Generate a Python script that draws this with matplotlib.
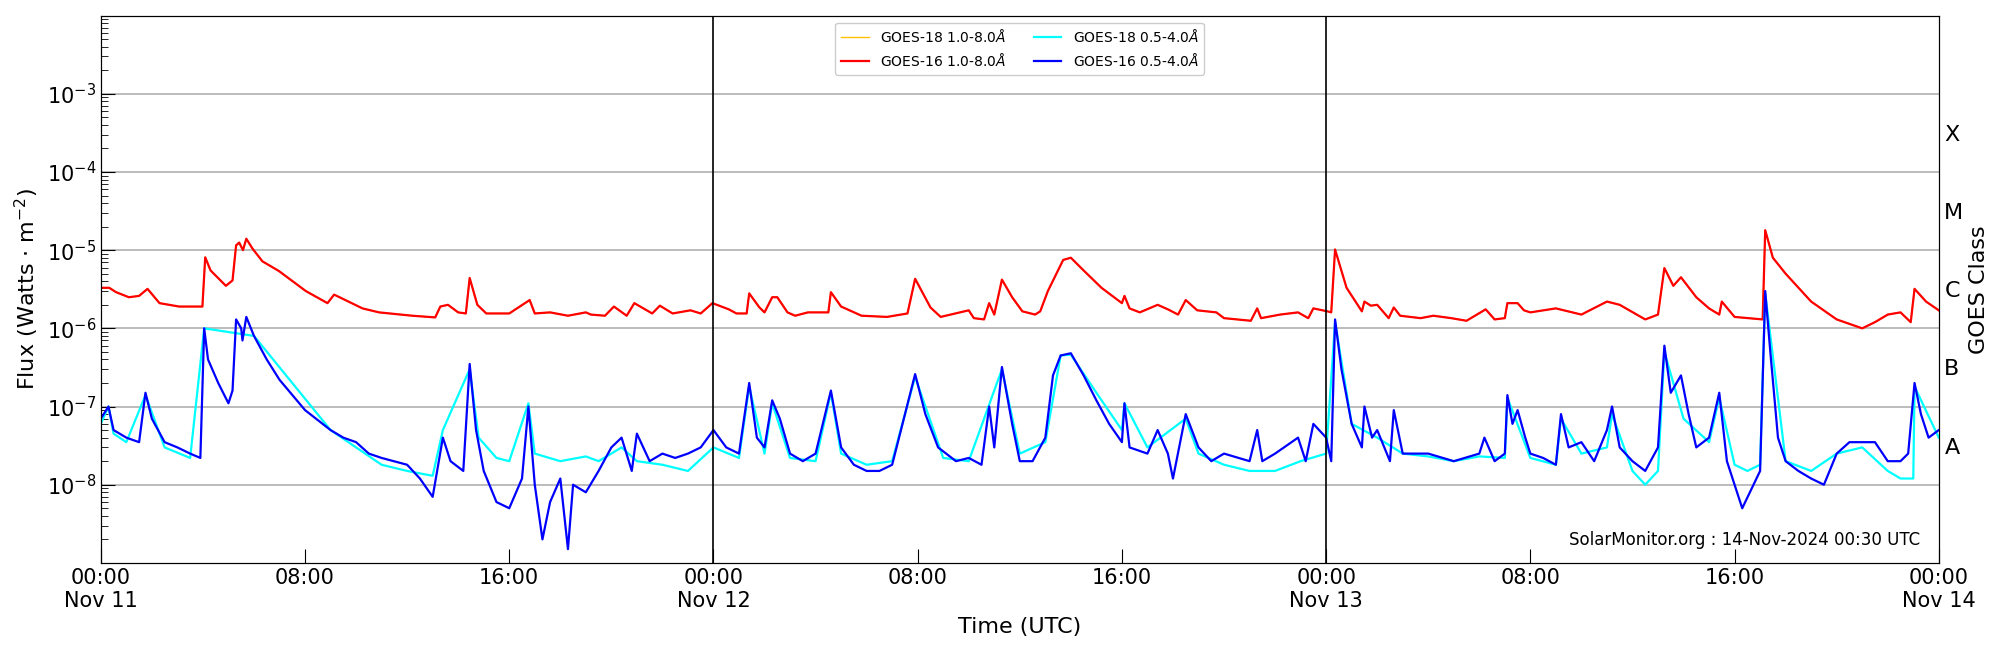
import numpy as np
import matplotlib
matplotlib.use("Agg")
import matplotlib.pyplot as plt
from matplotlib.ticker import LogLocator, NullFormatter

# hours since 2024-11-11 00:00 UTC, flux W/m^2
long_t = [0,0.33,0.6,1.1,1.5,1.83,2.3,3.07,3.98,4.09,4.3,4.9,5.16,5.3,5.42,5.57,5.7,5.94,6.33,6.98,8.03,8.88,9.14,10.25,10.9,12.2,13.1,13.3,13.6,14.0,14.3,14.45,14.75,15.1,16.0,16.8,17.0,17.6,18.3,
          19.0,19.2,19.75,20.1,20.6,20.9,21.6,21.9,22.4,23.1,23.5,23.96,24.6,24.9,25.3,25.4,25.8,26.0,26.3,26.5,26.9,27.2,27.7,28.5,28.6,29.0,29.8,30.8,31.6,31.9,32.5,32.9,34.0,34.2,34.6,34.8,35.0,35.3,35.7,36.1,36.6,
          36.8,37.1,37.7,38.0,38.5,39.2,40.0,40.1,40.3,40.7,41.4,41.8,42.2,42.5,42.95,43.7,44.0,45.05,45.3,45.45,46.2,46.9,47.3,47.5,48.05,48.2,48.35,48.8,49.4,49.5,49.75,50.0,50.45,50.65,50.9,51.7,52.2,52.9,53.5,54.25,54.6,55.0,55.1,55.5,55.75,
          56,57,58,59,59.5,60.5,61.0,61.25,61.6,61.9,62.5,63,63.4,63.5,64,65.1,65.2,65.5,66,67,68,69,69.5,70,70.5,70.9,71.05,71.5,72]
long_v = [3.3e-6,3.3e-6,2.9e-6,2.5e-6,2.6e-6,3.2e-6,2.1e-6,1.9e-6,1.9e-6,8.1e-6,5.5e-6,3.5e-6,4.1e-6,1.15e-5,1.25e-5,1.0e-5,1.4e-5,1.05e-5,7.2e-6,5.4e-6,3.0e-6,2.1e-6,2.7e-6,1.8e-6,1.6e-6,1.45e-6,1.38e-6,1.9e-6,2.0e-6,1.6e-6,1.55e-6,4.4e-6,2.0e-6,1.55e-6,1.55e-6,2.3e-6,1.55e-6,1.6e-6,1.45e-6,
          1.6e-6,1.5e-6,1.45e-6,1.9e-6,1.45e-6,2.1e-6,1.55e-6,1.95e-6,1.55e-6,1.7e-6,1.55e-6,2.1e-6,1.75e-6,1.55e-6,1.55e-6,2.8e-6,1.85e-6,1.6e-6,2.5e-6,2.5e-6,1.6e-6,1.45e-6,1.6e-6,1.6e-6,2.9e-6,1.9e-6,1.45e-6,1.4e-6,1.55e-6,4.3e-6,1.85e-6,1.4e-6,1.7e-6,1.35e-6,1.3e-6,2.1e-6,1.5e-6,4.2e-6,2.5e-6,1.65e-6,1.5e-6,
          1.65e-6,3.0e-6,7.5e-6,8.0e-6,5.5e-6,3.3e-6,2.1e-6,2.6e-6,1.8e-6,1.6e-6,2.0e-6,1.75e-6,1.5e-6,2.3e-6,1.7e-6,1.6e-6,1.35e-6,1.25e-6,1.8e-6,1.35e-6,1.5e-6,1.6e-6,1.35e-6,1.8e-6,1.65e-6,1.6e-6,1.02e-5,3.3e-6,1.65e-6,2.2e-6,1.95e-6,2.0e-6,1.35e-6,1.85e-6,1.45e-6,1.35e-6,1.45e-6,1.35e-6,1.25e-6,1.75e-6,1.3e-6,1.35e-6,2.1e-6,2.1e-6,1.7e-6,
          1.6e-6,1.8e-6,1.5e-6,2.2e-6,2.0e-6,1.3e-6,1.5e-6,5.9e-6,3.5e-6,4.5e-6,2.5e-6,1.8e-6,1.5e-6,2.2e-6,1.4e-6,1.3e-6,1.8e-5,8e-6,5e-6,2.2e-6,1.3e-6,1.0e-6,1.2e-6,1.5e-6,1.6e-6,1.2e-6,3.2e-6,2.2e-6,1.7e-6]

short_t = [0,0.3,0.5,1,1.5,1.75,2.0,2.5,3,3.5,3.9,4.05,4.2,4.6,5.0,5.16,5.3,5.5,5.55,5.7,6.0,6.5,7,8,9,9.5,10,10.5,11,12,12.5,13.0,13.4,13.7,14.2,14.45,14.7,15,15.5,16,16.5,16.75,17,17.3,17.6,18,18.3,18.5,19,19.5,20,20.4,20.8,21,21.5,22,22.5,23,23.5,24,24.5,25,25.4,25.7,26,26.3,26.6,27,27.5,28,28.6,29,29.5,30,30.5,31,31.9,32.3,32.8,33.5,34,34.5,34.8,35.0,35.3,35.7,36,36.5,37,37.3,37.6,38,38.5,39,39.5,40,40.1,40.3,41,41.4,41.8,42,42.5,43,43.5,44,45,45.3,45.5,46,46.9,47.2,47.5,48,48.2,48.35,48.6,49,49.4,49.5,49.8,50,50.5,50.65,51,52,53,54,54.2,54.6,55,55.1,55.3,55.5,55.8,56,56.5,57,57.2,57.5,58,58.5,59,59.2,59.5,60,60.5,61,61.25,61.5,61.9,62.2,62.5,63,63.4,63.7,64,64.3,64.6,65,65.2,65.4,65.7,66,66.5,67,67.5,68,68.5,69,69.5,70,70.5,70.8,71.05,71.3,71.6,72]
short_v = [7e-8,1e-7,5e-8,4e-8,3.5e-8,1.5e-7,7e-8,3.5e-8,3e-8,2.5e-8,2.2e-8,1e-6,4e-7,2e-7,1.1e-7,1.6e-7,1.3e-6,1.0e-6,7e-7,1.4e-6,8e-7,4e-7,2.2e-7,9e-8,5e-8,4e-8,3.5e-8,2.5e-8,2.2e-8,1.8e-8,1.2e-8,7e-9,4e-8,2e-8,1.5e-8,3.5e-7,5e-8,1.5e-8,6e-9,5e-9,1.2e-8,1e-7,1e-8,2e-9,6e-9,1.2e-8,1.5e-9,1e-8,8e-9,1.5e-8,3e-8,4e-8,1.5e-8,4.5e-8,2e-8,2.5e-8,2.2e-8,2.5e-8,3e-8,5e-8,3e-8,2.5e-8,2e-7,4e-8,3e-8,1.2e-7,7e-8,2.5e-8,2e-8,2.5e-8,1.6e-7,3e-8,1.8e-8,1.5e-8,1.5e-8,1.8e-8,2.6e-7,8e-8,3e-8,2e-8,2.2e-8,1.8e-8,1e-7,3e-8,3.2e-7,6e-8,2e-8,2e-8,4e-8,2.5e-7,4.5e-7,4.8e-7,2.5e-7,1.2e-7,6e-8,3.5e-8,1.1e-7,3e-8,2.5e-8,5e-8,2.5e-8,1.2e-8,8e-8,3e-8,2e-8,2.5e-8,2e-8,5e-8,2e-8,2.5e-8,4e-8,2e-8,6e-8,4e-8,2e-8,1.3e-6,3e-7,6e-8,3e-8,1e-7,4e-8,5e-8,2e-8,9e-8,2.5e-8,2.5e-8,2e-8,2.5e-8,4e-8,2e-8,2.5e-8,1.4e-7,6e-8,9e-8,4e-8,2.5e-8,2.2e-8,1.8e-8,8e-8,3e-8,3.5e-8,2e-8,5e-8,1e-7,3e-8,2e-8,1.5e-8,3e-8,6e-7,1.5e-7,2.5e-7,8e-8,3e-8,4e-8,1.5e-7,2e-8,1e-8,5e-9,8e-9,1.5e-8,3e-6,5e-7,4e-8,2e-8,1.5e-8,1.2e-8,1e-8,2.5e-8,3.5e-8,3.5e-8,3.5e-8,2e-8,2e-8,2.5e-8,2e-7,8e-8,4e-8,5e-8]

cyan_t = [0,0.3,0.5,1,1.75,2.5,3.5,4.05,6,9,10,11,12,13,13.4,14.45,14.8,15.5,16,16.75,17,18,19,19.5,20,20.4,21,22,23,24,25,25.4,26,26.3,27,28,28.6,29,30,31,31.9,33,34,35.3,36,37,37.6,38,39,40,40.1,41,42.5,43,44,45,46,47,48,48.35,49,50,51,52,53,54,55,55.1,56,57,57.2,58,59,59.2,60,60.5,61,61.25,62,63,63.4,64,64.5,65,65.2,66,67,68,69,70,70.5,71,71.05,72]
cyan_v = [6e-8,1e-7,4.5e-8,3.5e-8,1.4e-7,3e-8,2.2e-8,1e-6,8e-7,5e-8,3e-8,1.8e-8,1.5e-8,1.3e-8,5e-8,3e-7,4e-8,2.2e-8,2e-8,1.1e-7,2.5e-8,2e-8,2.3e-8,2e-8,2.5e-8,3e-8,2e-8,1.8e-8,1.5e-8,3e-8,2.2e-8,1.8e-7,2.5e-8,1.1e-7,2.2e-8,2e-8,1.5e-7,2.5e-8,1.8e-8,2e-8,2.4e-7,2.2e-8,2e-8,3e-7,2.5e-8,3.5e-8,4.5e-7,4.6e-7,1.5e-7,5e-8,1.1e-7,3e-8,7e-8,2.5e-8,1.8e-8,1.5e-8,1.5e-8,2e-8,2.5e-8,1.2e-6,6e-8,4e-8,2.5e-8,2.3e-8,2e-8,2.3e-8,2.2e-8,1.3e-7,2.2e-8,1.8e-8,7e-8,2.5e-8,3e-8,8e-8,1.5e-8,1e-8,1.5e-8,5e-7,7e-8,3.5e-8,1.3e-7,1.8e-8,1.5e-8,1.8e-8,2.8e-6,2e-8,1.5e-8,2.5e-8,3e-8,1.5e-8,1.2e-8,1.2e-8,1.8e-7,4e-8]

tick_hours = list(range(0, 73, 8))
tick_labels = ["00:00\nNov 11", "08:00", "16:00", "00:00\nNov 12", "08:00", "16:00",
               "00:00\nNov 13", "08:00", "16:00", "00:00\nNov 14"]
class_labels = ["A", "B", "C", "M", "X"]
class_pos = [10**-7.5, 10**-6.5, 10**-5.5, 10**-4.5, 10**-3.5]

fig = plt.figure(figsize=(20, 6.5), dpi=100)
ax = fig.add_axes([0.0504, 0.134, 0.919, 0.842])
ax.plot(long_t, long_v, color="#ffc000", lw=1.0, label="GOES-18 1.0-8.0$\\AA$")
ax.plot(long_t, long_v, color="red", lw=1.6, label="GOES-16 1.0-8.0$\\AA$")
ax.plot(cyan_t, cyan_v, color="cyan", lw=1.6, label="GOES-18 0.5-4.0$\\AA$")
ax.plot(short_t, short_v, color="blue", lw=1.6, label="GOES-16 0.5-4.0$\\AA$")
ax.set_yscale("log")
ax.set_ylim(1e-9, 1e-2)
ax.set_xlim(0, 72)
ax.set_xticks(tick_hours)
ax.set_xticklabels(tick_labels, fontsize=15)
ax.set_yticks([1e-8, 1e-7, 1e-6, 1e-5, 1e-4, 1e-3])
ax.yaxis.set_minor_locator(LogLocator(base=10, subs=np.arange(2, 10), numticks=20))
ax.yaxis.set_minor_formatter(NullFormatter())
ax.tick_params(axis="y", which="major", direction="in", length=10, labelsize=15)
ax.tick_params(axis="y", which="minor", direction="in", length=5)
ax.tick_params(axis="x", direction="in", length=10, labelsize=15)
ax.grid(axis="y", which="major", color="#b0b0b0", lw=1.2)
for h in (24, 48):
    ax.axvline(h, color="black", lw=1.2)
ax.set_xlabel("Time (UTC)", fontsize=16)
ax.set_ylabel("Flux (Watts $\\cdot$ m$^{-2}$)", fontsize=16)
ax2 = ax.twinx()
ax2.set_yscale("log")
ax2.set_ylim(1e-9, 1e-2)
ax2.set_yticks(class_pos)
ax2.set_yticklabels(class_labels, fontsize=16)
ax2.yaxis.set_minor_formatter(NullFormatter())
ax2.tick_params(axis="y", which="both", length=0, pad=4)
ax2.set_ylabel("GOES Class", fontsize=16)
ax.text(0.99, 0.025, "SolarMonitor.org : 14-Nov-2024 00:30 UTC", transform=ax.transAxes,
        ha="right", va="bottom", fontsize=12)
ax.legend(loc="upper center", ncol=2, fontsize=10, framealpha=1)
fig.savefig("out.png", dpi=100)
